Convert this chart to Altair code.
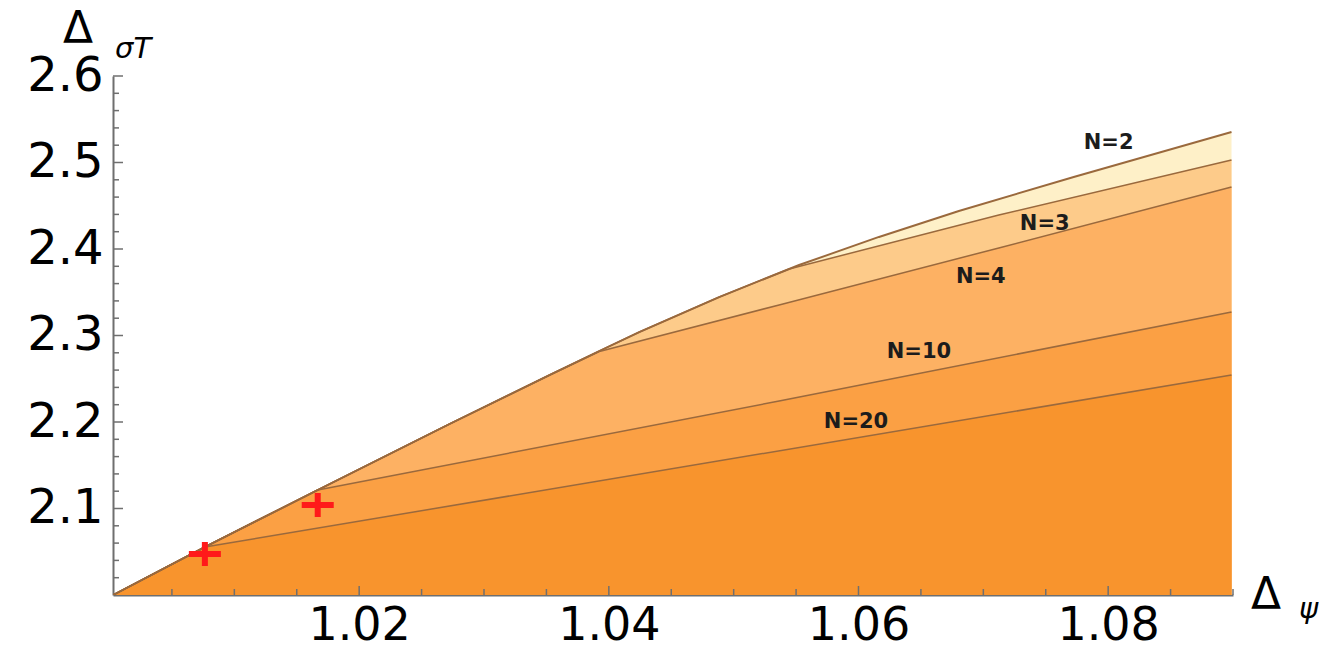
import altair as alt
import pandas as pd

# ---- data (x = Delta_psi, y = Delta_sigma_T) ----
n2_x = [1.00028, 1.00764, 1.01668, 1.02724, 1.03524, 1.03924, 1.04244, 1.04884, 1.05524, 1.06164, 1.06804, 1.07724, 1.08988]
n2_y = [2.0, 2.0555, 2.1214, 2.1977, 2.2543, 2.2821, 2.3040, 2.3445, 2.3815, 2.4139, 2.4439, 2.4832, 2.5353]

n3_x = [1.00028, 1.00764, 1.01668, 1.02724, 1.03524, 1.03924, 1.04244, 1.04884, 1.05444, 1.07124, 1.08988]
n3_y = [2.0, 2.0555, 2.1214, 2.1977, 2.2543, 2.2821, 2.3040, 2.3445, 2.3769, 2.4393, 2.5029]

n4_x = [1.00028, 1.00764, 1.01668, 1.02724, 1.03524, 1.03924, 1.05364, 1.07124, 1.08988]
n4_y = [2.0, 2.0555, 2.1214, 2.1977, 2.2540, 2.2815, 2.3353, 2.4012, 2.4717]

n10_x = [1.00028, 1.00764, 1.01668, 1.05364, 1.08988]
n10_y = [2.0, 2.0555, 2.1214, 2.2243, 2.3272]

n20_x = [1.00028, 1.00764, 1.08988]
n20_y = [2.0, 2.0555, 2.2543]

series_names = ["N=2", "N=3", "N=4", "N=10", "N=20"]
series_x = [n2_x, n3_x, n4_x, n10_x, n20_x]
series_y = [n2_y, n3_y, n4_y, n10_y, n20_y]
fill_colors = ["#fef0c8", "#fdcb8a", "#fdb163", "#fba044", "#f8942d"]

label_x = [1.08004, 1.07492, 1.06980, 1.06484, 1.05980]
label_y = [2.5225, 2.4289, 2.3676, 2.2809, 2.2000]

cross_x = [1.00764, 1.01668]
cross_y = [2.0474, 2.1040]

x_label_values = [1.02, 1.04, 1.06, 1.08]
y_label_values = [2.1, 2.2, 2.3, 2.4, 2.5, 2.6]
x_major_ticks = [1.02, 1.04, 1.06, 1.08]
x_minor_ticks = [1.005, 1.01, 1.015, 1.025, 1.03, 1.035, 1.045, 1.05, 1.055, 1.065, 1.07, 1.075, 1.085, 1.09]
y_major_ticks = [2.1, 2.2, 2.3, 2.4, 2.5, 2.6]
y_minor_ticks = [2.02, 2.04, 2.06, 2.08, 2.12, 2.14, 2.16, 2.18, 2.22, 2.24, 2.26, 2.28,
                 2.32, 2.34, 2.36, 2.38, 2.42, 2.44, 2.46, 2.48, 2.52, 2.54, 2.56, 2.58]
baseline_value = 2.0

W, H = 1120, 519
FONT = "DejaVu Sans"
LINE_COLOR = "#9a693d"
AXIS_COLOR = "#6f6f6f"

xscale = alt.Scale(domain=[1.00028, 1.09], nice=False, zero=False)
yscale = alt.Scale(domain=[2.0, 2.6], nice=False, zero=False)

x_axis = alt.Axis(values=x_label_values, format=".2f", labelFontSize=46, labelFont=FONT,
                  labelColor="#000000", ticks=False, grid=False, domain=True,
                  domainColor=AXIS_COLOR, domainWidth=2, labelPadding=8, title=None,
                  labelFlush=False, labelOverlap=False)
y_axis = alt.Axis(values=y_label_values, format=".1f", labelFontSize=48, labelFont=FONT,
                  labelColor="#000000", ticks=False, grid=False, domain=True,
                  domainColor=AXIS_COLOR, domainWidth=2, labelPadding=10, title=None,
                  labelFlush=False, labelOverlap=False)


def X(field):
    return alt.X(field, scale=xscale, axis=x_axis)


def Y(field):
    return alt.Y(field, scale=yscale, axis=y_axis)


rows = []
for name, xs, ys in zip(series_names, series_x, series_y):
    for i, (xv, yv) in enumerate(zip(xs, ys)):
        rows.append({"series": name, "x": xv, "y": yv, "base": baseline_value, "i": i})
curves = pd.DataFrame(rows)

layers = []
for name, col in zip(series_names, fill_colors):
    area = alt.Chart(curves).transform_filter(alt.datum.series == name).mark_area(
        color=col, fillOpacity=1, clip=True).encode(
        x=X("x:Q"),
        y=Y("y:Q"),
        y2="base:Q",
    )
    layers.append(area)

for name in series_names:
    line = alt.Chart(curves).transform_filter(alt.datum.series == name).mark_line(
        color=LINE_COLOR, strokeWidth=1.9 if name == "N=2" else 1.5, clip=True,
        strokeJoin="round").encode(
        x=X("x:Q"),
        y=Y("y:Q"),
        order="i:Q",
    )
    layers.append(line)

# inward ticks
ymaj = alt.Chart(pd.DataFrame({"v": y_major_ticks})).mark_rule(color=AXIS_COLOR, strokeWidth=1.5).encode(
    y=Y("v:Q"), x=alt.value(0), x2=alt.value(10))
ymin = alt.Chart(pd.DataFrame({"v": y_minor_ticks})).mark_rule(color=AXIS_COLOR, strokeWidth=1.5).encode(
    y=Y("v:Q"), x=alt.value(0), x2=alt.value(6))
xmaj = alt.Chart(pd.DataFrame({"v": x_major_ticks})).mark_rule(color=AXIS_COLOR, strokeWidth=1.5).encode(
    x=X("v:Q"), y=alt.value(H), y2=alt.value(H - 9))
xmin = alt.Chart(pd.DataFrame({"v": x_minor_ticks})).mark_rule(color=AXIS_COLOR, strokeWidth=1.5).encode(
    x=X("v:Q"), y=alt.value(H), y2=alt.value(H - 6))
layers += [ymaj, ymin, xmaj, xmin]

# red crosses
crosses = alt.Chart(pd.DataFrame({"x": cross_x, "y": cross_y})).mark_point(
    shape="M-1,0L1,0M0,-0.75L0,0.75", size=1024, filled=False, stroke="#ff1a1a",
    strokeWidth=6, opacity=1).encode(x=X("x:Q"), y=Y("y:Q"))
layers.append(crosses)

# N labels
labels = alt.Chart(pd.DataFrame({"x": label_x, "y": label_y, "t": series_names})).mark_text(
    font=FONT, fontSize=21, fontWeight="bold", color="#1c1c1c", align="center", baseline="middle").encode(
    x=X("x:Q"), y=Y("y:Q"), text="t:N")
layers.append(labels)

# axis titles  Δ_{σ_T} and Δ_ψ
dummy = pd.DataFrame({"a": [0]})
t1 = alt.Chart(dummy).mark_text(text="Δ", font=FONT, fontSize=44, color="#000000", align="left",
                                baseline="alphabetic").encode(x=alt.value(-50), y=alt.value(-33))
t2 = alt.Chart(dummy).mark_text(text="σT", font=FONT, fontSize=29, fontStyle="italic", color="#000000",
                                align="left", baseline="alphabetic").encode(x=alt.value(2), y=alt.value(-18))
t3 = alt.Chart(dummy).mark_text(text="Δ", font=FONT, fontSize=44, color="#000000", align="left",
                                baseline="alphabetic").encode(x=alt.value(1138), y=alt.value(533))
t4 = alt.Chart(dummy).mark_text(text="ψ", font=FONT, fontSize=29, fontStyle="italic", color="#000000",
                                align="left", baseline="alphabetic").encode(x=alt.value(1186), y=alt.value(542))
layers += [t1, t2, t3, t4]

chart = alt.layer(*layers).properties(
    width=W, height=H,
    autosize=alt.AutoSizeParams(type="none"),
    padding={"left": 105, "top": 68, "right": 94, "bottom": 49},
    background="white",
).configure_view(stroke=None)

chart.save("out.html", embed_options={"renderer": "svg", "actions": False})
